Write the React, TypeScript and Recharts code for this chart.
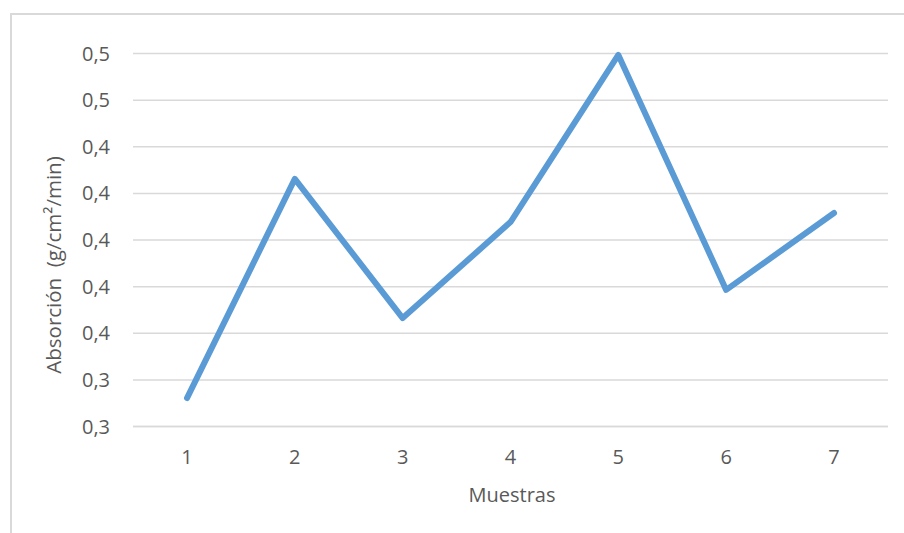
import React from "react";
import { LineChart, Line, XAxis, YAxis, CartesianGrid } from "recharts";

const categories = ["1", "2", "3", "4", "5", "6", "7"];
const absorcion = [0.3322, 0.4262, 0.3665, 0.4077, 0.4794, 0.3786, 0.4116];
const yTicks = [0.32, 0.34, 0.36, 0.38, 0.4, 0.42, 0.44, 0.46, 0.48];

const data = categories.map((c, i) => ({ muestra: c, valor: absorcion[i] }));

const FONT = "'Open Sans', sans-serif";
const TEXT = "#595959";

const fmt = (v: number) => v.toFixed(1).replace(".", ",");

export default function App() {
  return (
    <div style={{ position: "absolute", left: 0, top: 0, width: 904, height: 533, background: "#fff" }}>
      <div
        style={{
          position: "absolute",
          left: 10,
          top: 13,
          width: 900,
          height: 530,
          border: "2px solid #D9D9D9",
          boxSizing: "border-box",
        }}
      />
      <div style={{ position: "absolute", left: 0, top: 0 }}>
        <LineChart
          width={904}
          height={533}
          data={data}
          margin={{ top: 53.5, right: 16, bottom: 76.5, left: 0 }}
        >
          <CartesianGrid vertical={false} stroke="#D9D9D9" strokeWidth={1.5} />
          <XAxis
            dataKey="muestra"
            height={30}
            padding={{ left: 54, right: 54 }}
            axisLine={{ stroke: "#D9D9D9", strokeWidth: 1.5 }}
            tickLine={false}
            tickSize={0}
            tickMargin={23.5}
            tick={{ fill: TEXT, fontSize: 20, fontFamily: FONT }}
            label={{
              content: () => (
                <text x={512} y={502} textAnchor="middle" fill={TEXT} fontSize={20} fontFamily={FONT}>
                  Muestras
                </text>
              ),
            }}
          />
          <YAxis
            width={133}
            domain={[0.32, 0.48]}
            ticks={yTicks}
            tickFormatter={fmt}
            axisLine={false}
            tickLine={false}
            tickSize={0}
            tickMargin={23}
            tick={{ fill: TEXT, fontSize: 20, fontFamily: FONT }}
            label={{
              content: () => (
                <text
                  x={61}
                  y={265}
                  transform="rotate(-90 61 265)"
                  textAnchor="middle"
                  fill={TEXT}
                  fontSize={20.5}
                  fontFamily={FONT}
                >
                  {"Absorción\u00A0 (g/cm²/min)"}
                </text>
              ),
            }}
          />
          <Line
            type="linear"
            dataKey="valor"
            stroke="#5B9BD5"
            strokeWidth={6}
            strokeLinecap="round"
            strokeLinejoin="round"
            dot={false}
            activeDot={false}
            isAnimationActive={false}
          />
        </LineChart>
      </div>
    </div>
  );
}
